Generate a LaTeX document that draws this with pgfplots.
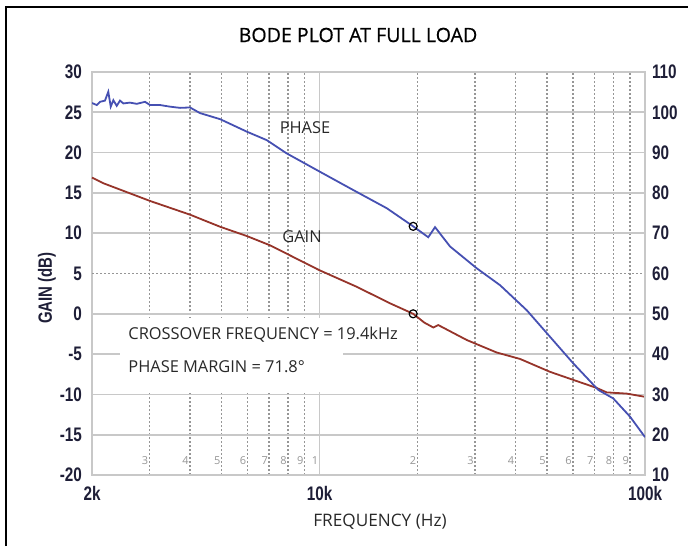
\documentclass[border=0pt]{standalone}
\usepackage{pgfplots}
\pgfplotsset{compat=1.18}
\usepackage{fontspec}
\setmainfont{Open Sans}
\newfontfamily\titlefont[FakeBold=0.6]{Open Sans}
\newfontfamily\tickfont[FakeStretch=0.78]{Liberation Sans}
\definecolor{phasec}{RGB}{70,80,178}
\definecolor{gainc}{RGB}{150,52,42}
\definecolor{gridc}{RGB}{200,200,200}
\definecolor{dotc}{RGB}{150,150,150}
\definecolor{tickc}{RGB}{30,30,55}
\definecolor{txtc}{RGB}{40,40,40}

\pgfplotstableread{
f phase
2000 102.3
2068 101.8
2116 102.6
2192 102.9
2244 105.1
2283 101.4
2326 103.0
2382 101.6
2438 102.9
2496 102.2
2616 102.4
2745 102.1
2910 102.6
3015 101.8
3236 101.8
3472 101.4
3727 101.1
4000 101.2
4294 99.8
4948 98.3
5977 95.2
6882 93.1
7930 89.8
10000 85.3
12700 80.7
16090 76.2
19400 71.7
21580 69.0
22640 71.5
25180 66.7
30400 61.3
35860 57.1
43300 50.9
51060 44.3
60200 37.7
71880 31.1
79900 29.0
89900 24.5
100000 19.4
}\phasetable

\pgfplotstableread{
f gain
2000 16.9
2166 16.2
3015 14.0
4000 12.3
4948 10.8
5977 9.65
7046 8.5
10000 5.4
13010 3.35
16470 1.3
19400 0.0
21000 -1.1
22370 -1.7
23170 -1.4
28330 -3.25
35010 -4.8
41300 -5.6
51060 -7.2
60200 -8.2
71060 -9.2
76280 -9.75
87800 -9.9
100000 -10.3
}\gaintable

\tikzset{minlab/.style={font=\fontsize{5.5}{6}\selectfont, text=dotc, anchor=south, xshift=-2.2pt, yshift=1.5pt}}

\begin{document}
\begin{tikzpicture}
\useasboundingbox (0pt,0pt) rectangle (344pt,273pt);
\draw[line width=1pt] (3pt,0pt) -- (3pt,269.5pt) -- (344pt,269.5pt);

\begin{axis}[
  at={(46pt,35.5pt)}, anchor=south west, scale only axis,
  width=276.5pt, height=201.5pt,
  xmode=log, xmin=2000, xmax=100000, ymin=-20, ymax=30,
  xtick={2000,10000,100000}, xticklabels={2k,10k,100k},
  minor xtick={3000,4000,5000,6000,7000,8000,9000,20000,30000,40000,50000,60000,70000,80000,90000},
  ytick={-20,-15,-10,-5,0,10,15,20,25,30},
  extra y ticks={5},
  extra y tick style={major grid style={dotc, dash pattern=on 1pt off 1pt, line width=0.8pt}},
  xmajorgrids, xminorgrids, ymajorgrids,
  major grid style={gridc, line width=0.8pt},
  minor grid style={dotc, dash pattern=on 1pt off 1pt, line width=0.8pt},
  major tick length=0pt, minor tick length=0pt,
  axis line style={gridc, line width=0.8pt},
  /pgf/number format/assume math mode=true,
  ticklabel style={font=\tickfont\bfseries\fontsize{9.8}{10}\selectfont, text=tickc},
  xticklabel style={anchor=center, yshift=-9pt},
  yticklabel style={xshift=-1.5pt},
  clip=false,
]
\fill[white] (axis cs:2440,-0.5) rectangle (axis cs:11800,-9.7);
\addplot[gainc, line width=0.9pt] table[x=f, y=gain] {\gaintable};
\addplot[black, only marks, mark=o, mark size=2pt, mark options={line width=0.6pt}] coordinates {(19400,0)};
\node[minlab] at (axis cs:3000,-20) {3};
\node[minlab] at (axis cs:4000,-20) {4};
\node[minlab] at (axis cs:5000,-20) {5};
\node[minlab] at (axis cs:6000,-20) {6};
\node[minlab] at (axis cs:7000,-20) {7};
\node[minlab] at (axis cs:8000,-20) {8};
\node[minlab] at (axis cs:9000,-20) {9};
\node[minlab] at (axis cs:10000,-20) {1};
\node[minlab] at (axis cs:20000,-20) {2};
\node[minlab] at (axis cs:30000,-20) {3};
\node[minlab] at (axis cs:40000,-20) {4};
\node[minlab] at (axis cs:50000,-20) {5};
\node[minlab] at (axis cs:60000,-20) {6};
\node[minlab] at (axis cs:70000,-20) {7};
\node[minlab] at (axis cs:80000,-20) {8};
\node[minlab] at (axis cs:90000,-20) {9};
\end{axis}

\begin{axis}[
  at={(46pt,35.5pt)}, anchor=south west, scale only axis,
  width=276.5pt, height=201.5pt,
  xmode=log, xmin=2000, xmax=100000, ymin=10, ymax=110,
  axis y line*=right, axis x line=none,
  ytick={10,20,...,110},
  major tick length=0pt,
  axis line style={gridc, line width=0.8pt},
  /pgf/number format/assume math mode=true,
  ticklabel style={font=\tickfont\bfseries\fontsize{9.8}{10}\selectfont, text=tickc},
]
\addplot[phasec, line width=0.9pt] table[x=f, y=phase] {\phasetable};
\addplot[black, only marks, mark=o, mark size=2pt, mark options={line width=0.6pt}] coordinates {(19400,71.7)};
\end{axis}

\begin{scope}[x=0.5pt,y=0.5pt]
\node[font=\titlefont\fontsize{9.8}{11}\selectfont, text=black] at (358,511) {BODE PLOT AT FULL LOAD};
\node[font=\fontsize{8.6}{10}\selectfont, text=txtc] at (380,24) {FREQUENCY (Hz)};
\node[font=\tickfont\bfseries\fontsize{9.6}{10}\selectfont, text=tickc, rotate=90] at (47,258) {GAIN (dB)};
\node[font=\fontsize{8.2}{10}\selectfont, text=txtc] at (305,418) {PHASE};
\node[font=\fontsize{8.2}{10}\selectfont, text=txtc] at (302,309) {GAIN};
\node[font=\fontsize{8.2}{10}\selectfont, text=txtc, anchor=west, inner sep=0pt] at (128,211) {CROSSOVER FREQUENCY = 19.4kHz};
\node[font=\fontsize{8.2}{10}\selectfont, text=txtc, anchor=west, inner sep=0pt] at (128,179) {PHASE MARGIN = 71.8\textdegree};
\end{scope}
\end{tikzpicture}
\end{document}
